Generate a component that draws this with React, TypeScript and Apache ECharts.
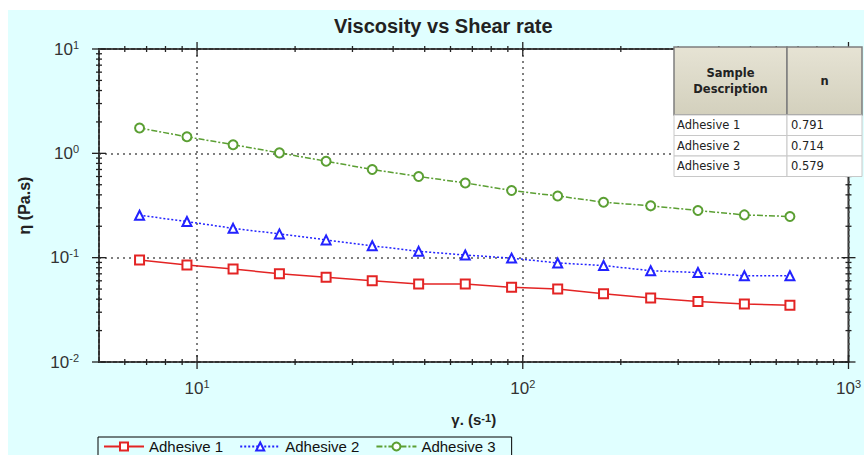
import React, { useEffect, useRef } from "react";
import * as echarts from "echarts";

// ---- data ----
const shearRate = [6.66, 9.31, 12.9, 17.9, 24.9, 34.5, 47.9, 66.6, 92.4, 128, 177, 247, 345, 479, 661];
const adhesive1 = [0.095, 0.085, 0.078, 0.070, 0.065, 0.060, 0.056, 0.056, 0.052, 0.050, 0.045, 0.041, 0.038, 0.036, 0.035];
const adhesive2 = [0.255, 0.222, 0.191, 0.169, 0.148, 0.130, 0.115, 0.106, 0.099, 0.089, 0.084, 0.075, 0.072, 0.067, 0.067];
const adhesive3 = [1.75, 1.44, 1.21, 1.01, 0.84, 0.70, 0.60, 0.52, 0.44, 0.39, 0.34, 0.314, 0.283, 0.257, 0.248];
const seriesNames = ["Adhesive 1", "Adhesive 2", "Adhesive 3"];

const tableHeaders = ["Sample\nDescription", "n"];
const tableSamples = ["Adhesive 1", "Adhesive 2", "Adhesive 3"];
const tableN = ["0.791", "0.714", "0.579"];

// axis ranges & tick values
const X_MIN = 5;
const X_MAX = 1000;
const Y_MIN = 0.01;
const Y_MAX = 10;
const xMajorTicks = [10, 100, 1000];
const xMinorTicks = [6, 7, 8, 9, 20, 30, 40, 50, 60, 70, 80, 90, 200, 300, 400, 500, 600, 700, 800, 900];
const yMajorTicks = [0.01, 0.1, 1, 10];
const yMinorTicks = [0.02, 0.03, 0.04, 0.05, 0.06, 0.07, 0.08, 0.09, 0.2, 0.3, 0.4, 0.5, 0.6, 0.7, 0.8, 0.9, 2, 3, 4, 5, 6, 7, 8, 9];

const FONT = "Liberation Sans";
const BG = "#e0ffff";

const powLabel = (v: number) => {
  const l = Math.log10(v);
  const e = Math.round(l);
  if (Math.abs(l - e) > 1e-6) return "";
  return `{b|10}{s|${e}}`;
};

const labelRich = {
  b: { fontSize: 17, lineHeight: 20, color: "#333", fontFamily: FONT },
  s: { fontSize: 11, lineHeight: 12, color: "#333", fontFamily: FONT, verticalAlign: "top" },
};

export default function App() {
  const ref = useRef<HTMLDivElement>(null);
  useEffect(() => {
    if (!ref.current) return;
    const chart = echarts.init(ref.current, null, { renderer: "svg" });

    const tickStyle = { stroke: "#222", lineWidth: 1.3 };

    const xTickData = [
      ...xMajorTicks.map((v) => [v, 1, 1]),
      ...xMinorTicks.map((v) => [v, 1, 0]),
    ];
    const yTickData = [
      ...yMajorTicks.map((v) => [10, v, 1]),
      ...yMinorTicks.map((v) => [10, v, 0]),
    ];

    // table graphic
    const tx = 666, ty = 37, c1w = 113, c2w = 75, hh = 68, rh = 20.5;
    const headerFill = new echarts.graphic.LinearGradient(0, 0, 0, 1, [
      { offset: 0, color: "#e6e3d4" },
      { offset: 1, color: "#d3d0bd" },
    ]);
    const tableEls: any[] = [
      { type: "rect", shape: { x: tx, y: ty, width: c1w, height: hh }, style: { fill: headerFill, stroke: "#7d7d7d", lineWidth: 1.5 } },
      { type: "rect", shape: { x: tx + c1w, y: ty, width: c2w, height: hh }, style: { fill: headerFill, stroke: "#7d7d7d", lineWidth: 1.5 } },
      { type: "text", x: tx + c1w / 2, y: ty + hh / 2, style: { text: tableHeaders[0], align: "center", verticalAlign: "middle", fontSize: 11.5, lineHeight: 16, fontWeight: "bold", fontFamily: "DejaVu Sans", fill: "#222" } },
      { type: "text", x: tx + c1w + c2w / 2, y: ty + hh / 2, style: { text: tableHeaders[1], align: "center", verticalAlign: "middle", fontSize: 11.5, fontWeight: "bold", fontFamily: "DejaVu Sans", fill: "#222" } },
    ];
    tableSamples.forEach((s, i) => {
      const y = ty + hh + i * rh;
      tableEls.push(
        { type: "rect", shape: { x: tx, y, width: c1w, height: rh }, style: { fill: "#fff", stroke: "#c8c8c8", lineWidth: 1 } },
        { type: "rect", shape: { x: tx + c1w, y, width: c2w, height: rh }, style: { fill: "#fff", stroke: "#c8c8c8", lineWidth: 1 } },
        { type: "text", x: tx + 3, y: y + rh / 2, style: { text: s, align: "left", verticalAlign: "middle", fontSize: 11.5, fontFamily: "DejaVu Sans", fill: "#222" } },
        { type: "text", x: tx + c1w + 4, y: y + rh / 2, style: { text: tableN[i], align: "left", verticalAlign: "middle", fontSize: 11.5, fontFamily: "DejaVu Sans", fill: "#222" } }
      );
    });

    const mk = (name: string, vals: number[], color: string, symbol: string, type: any, size: number) => ({
      name,
      type: "line",
      data: shearRate.map((x, i) => [x, vals[i]]),
      symbol,
      symbolSize: size,
      lineStyle: { color, width: 1.5, type },
      itemStyle: { color, borderColor: color, borderWidth: 1.5 },
      z: 3,
    });

    chart.setOption({
      animation: false,
      backgroundColor: BG,
      title: {
        text: "Viscosity vs Shear rate",
        left: 326,
        top: 6,
        padding: 0,
        textStyle: { fontSize: 20, fontWeight: "bold", fontFamily: FONT, color: "#222" },
      },
      legend: {
        data: seriesNames,
        left: 90,
        top: 427,
        padding: [2, 16, 4, 5],
        itemWidth: 40,
        itemHeight: 10,
        itemGap: 16,
        borderColor: "#000",
        borderWidth: 1,
        textStyle: { fontSize: 15, lineHeight: 14, fontFamily: FONT, color: "#111" },
      },
      grid: {
        left: 91,
        top: 39,
        right: 6,
        bottom: 93,
        show: true,
        backgroundColor: "#fff",
        borderColor: "#333",
        borderWidth: 2,
      },
      xAxis: {
        type: "log",
        logBase: 10,
        min: X_MIN,
        max: X_MAX,
        axisLine: { show: false },
        axisTick: { show: false },
        splitLine: { show: true, lineStyle: { color: "#555", type: [2, 4], width: 1.5 } },
        axisLabel: { margin: 16, formatter: powLabel, rich: labelRich },
        name: "γ. (s{s|-1})",
        nameLocation: "middle",
        nameGap: 50,
        nameTextStyle: {
          fontSize: 15,
          fontWeight: "bold",
          fontFamily: FONT,
          color: "#222",
          rich: {
            s: { fontSize: 11, lineHeight: 10, fontWeight: "bold", fontFamily: FONT, color: "#222", verticalAlign: "top" },
          },
        },
      },
      yAxis: {
        type: "log",
        logBase: 10,
        min: Y_MIN,
        max: Y_MAX,
        axisLine: { show: false },
        axisTick: { show: false },
        splitLine: { show: true, lineStyle: { color: "#555", type: [2, 4], width: 1.5 } },
        axisLabel: { margin: 20, formatter: powLabel, rich: labelRich },
        name: "η (Pa.s)",
        nameLocation: "middle",
        nameGap: 67,
        nameTextStyle: { fontSize: 16, fontWeight: "bold", fontFamily: FONT, color: "#222" },
      },
      series: [
        mk(seriesNames[0], adhesive1, "#e32424", "emptyRect", "solid", 9),
        mk(seriesNames[1], adhesive2, "#2222ff", "emptyTriangle", [2, 2], 9),
        mk(seriesNames[2], adhesive3, "#5b9f33", "emptyCircle", [6, 2, 2, 2], 9),
        {
          type: "custom",
          silent: true,
          z: 4,
          data: xTickData,
          renderItem: (params: any, api: any) => {
            const v = api.value(0);
            const L = api.value(2) === 1 ? 7 : 3;
            const b = api.coord([v, Y_MIN]);
            const t = api.coord([v, Y_MAX]);
            return {
              type: "group",
              children: [
                { type: "line", shape: { x1: b[0], y1: b[1] - L, x2: b[0], y2: b[1] + L }, style: tickStyle },
                { type: "line", shape: { x1: t[0], y1: t[1] - L, x2: t[0], y2: t[1] + L }, style: tickStyle },
              ],
            };
          },
        },
        {
          type: "custom",
          silent: true,
          z: 4,
          data: yTickData,
          renderItem: (params: any, api: any) => {
            const v = api.value(1);
            const L = api.value(2) === 1 ? 7 : 3;
            const l = api.coord([X_MIN, v]);
            const r = api.coord([X_MAX, v]);
            return {
              type: "group",
              children: [
                { type: "line", shape: { x1: l[0] - L, y1: l[1], x2: l[0] + L, y2: l[1] }, style: tickStyle },
                { type: "line", shape: { x1: r[0] - L, y1: r[1], x2: r[0] + L, y2: r[1] }, style: tickStyle },
              ],
            };
          },
        },
      ],
      graphic: tableEls.map((e) => ({ ...e, z: 10 })),
    });
    return () => chart.dispose();
  }, []);

  return (
    <div
      ref={ref}
      style={{ position: "absolute", left: 8, top: 10, width: 856, height: 445 }}
    />
  );
}
